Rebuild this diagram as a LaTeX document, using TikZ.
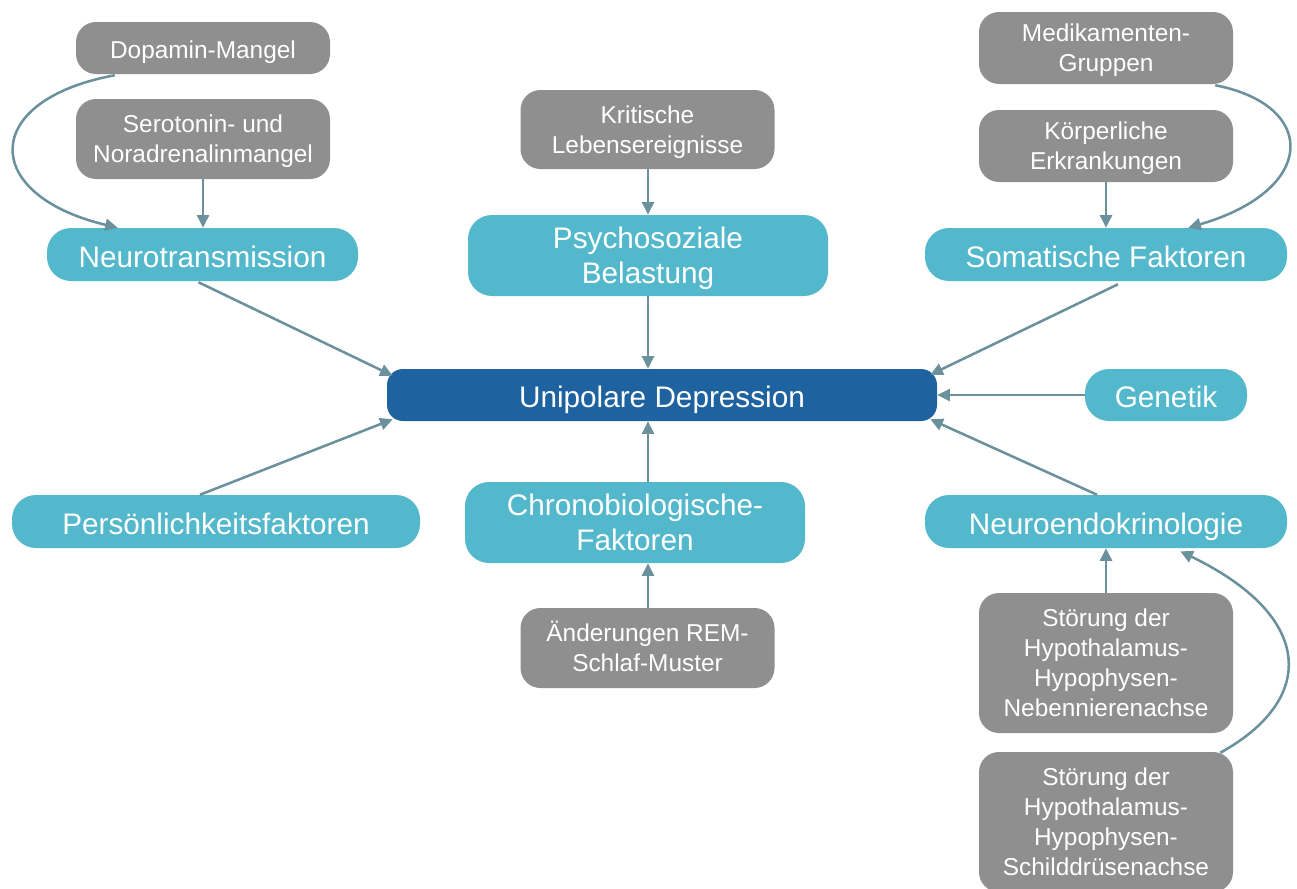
\documentclass[tikz,border=0pt]{standalone}
\usepackage{fontspec}
\setmainfont{Liberation Sans}
\usetikzlibrary{arrows.meta,calc}
\definecolor{grayfill}{HTML}{8F8F8F}
\definecolor{cyanfill}{HTML}{53B8CB}
\definecolor{bluefill}{HTML}{1E62A0}
\definecolor{arrowcol}{HTML}{6A919C}
\begin{document}
\begin{tikzpicture}[x=0.75pt,y=-0.75pt,
  graybox/.style={rectangle,rounded corners=15pt,fill=grayfill,text=white,inner sep=0pt,
    minimum width=190.5pt,align=center,font=\fontsize{18.3}{22.5}\selectfont},
  cyanbox/.style={rectangle,rounded corners=18pt,fill=cyanfill,text=white,inner sep=0pt,
    align=center,font=\fontsize{22.3}{26.3}\selectfont},
  bluebox/.style={rectangle,rounded corners=12pt,fill=bluefill,text=white,inner sep=0pt,
    align=center,font=\fontsize{22.3}{26.3}\selectfont},
  grayone/.style={text height=15.5pt,text depth=0pt},
  bigone/.style={text height=19pt,text depth=0pt},
  multiline/.style={text depth=0pt},
  conn/.style={draw=arrowcol,line width=1.9pt,-{Triangle[length=9.5pt,width=9pt]}}]
\useasboundingbox (0,0) rectangle (1297,889);
% gray boxes
\node[graybox,grayone,minimum height=39pt] (dop) at (203,48) {Dopamin-Mangel};
\node[graybox,multiline,minimum height=60pt] (sero) at (203,139) {Serotonin- und\\Noradrenalinmangel};
\node[graybox,multiline,minimum height=59.25pt] (krit) at (647.5,129.5) {Kritische\\Lebensereignisse};
\node[graybox,multiline,minimum height=54pt] (med) at (1106,48) {Medikamenten-\\Gruppen};
\node[graybox,multiline,minimum height=54pt] (koerp) at (1106,146) {Körperliche\\Erkrankungen};
\node[graybox,multiline,minimum height=60pt] (rem) at (647.5,648) {\smash{Ä}nderungen REM-\\Schlaf-Muster};
\node[graybox,multiline,minimum height=105pt] (neben) at (1106,663) {Störung der\\Hypothalamus-\\Hypophysen-\\Nebennierenachse};
\node[graybox,multiline,minimum height=105pt] (schild) at (1106,822) {Störung der\\Hypothalamus-\\Hypophysen-\\Schilddrüsenachse};
% cyan boxes
\node[cyanbox,bigone,minimum width=233.25pt,minimum height=39.75pt] (neuro) at (202.5,254.5) {Neurotransmission};
\node[cyanbox,multiline,minimum width=270pt,minimum height=60.75pt] (psych) at (648,255.5) {Psychosoziale\\Belastung};
\node[cyanbox,bigone,minimum width=271.5pt,minimum height=39.75pt] (soma) at (1106,254.5) {Somatische Faktoren};
\node[cyanbox,bigone,minimum width=121.5pt,minimum height=39pt] (gen) at (1166,395) {Genetik};
\node[cyanbox,bigone,minimum width=306pt,minimum height=39.75pt] (pers) at (216,521.5) {Persönlichkeitsfaktoren};
\node[cyanbox,multiline,minimum width=255pt,minimum height=60.75pt] (chrono) at (635,522.5) {Chronobiologische-\\Faktoren};
\node[cyanbox,bigone,minimum width=271.5pt,minimum height=39.75pt] (endo) at (1106,521.5) {Neuroendokrinologie};
% center
\node[bluebox,bigone,minimum width=412.5pt,minimum height=39pt] (dep) at (662,395) {Unipolare Depression};
% connectors
\draw[conn] ($(dop.south west)+(39,1)$) .. controls (-20,100) and (-20,195) .. ($(neuro.north west)+(71,0)$);
\draw[conn] (sero.south) -- (sero.south |- neuro.north);
\draw[conn] (krit.south -| psych.north) -- (psych.north);
\draw[conn] (koerp.south) -- (soma.north);
\draw[conn] ($(med.south east)+(-18,1)$) .. controls (1318,105) and (1318,190) .. ($(soma.north east)+(-99,0)$);
\draw[conn] ($(neuro.south)+(-4,1)$) -- ($(dep.north west)+(6,7)$);
\draw[conn] (psych.south) -- (psych.south |- dep.north);
\draw[conn] ($(soma.south)+(12,3)$) -- ($(dep.north east)+(-7,6)$);
\draw[conn] (gen.west |- dep.east) -- (dep.east);
\draw[conn] ($(pers.north)+(-16,0)$) -- ($(dep.south west)+(6,-2)$);
\draw[conn] (chrono.north -| psych.south) -- (psych.south |- dep.south);
\draw[conn] (rem.north -| psych.south) -- (psych.south |- chrono.south);
\draw[conn] ($(endo.north)+(-9,0)$) -- ($(dep.south east)+(-7,-2)$);
\draw[conn] (neben.north) -- (endo.south);
\draw[conn] ($(schild.north east)+(-13,1)$) .. controls (1316,700) and (1316,617) .. ($(endo.south east)+(-107,3)$);
\end{tikzpicture}
\end{document}
